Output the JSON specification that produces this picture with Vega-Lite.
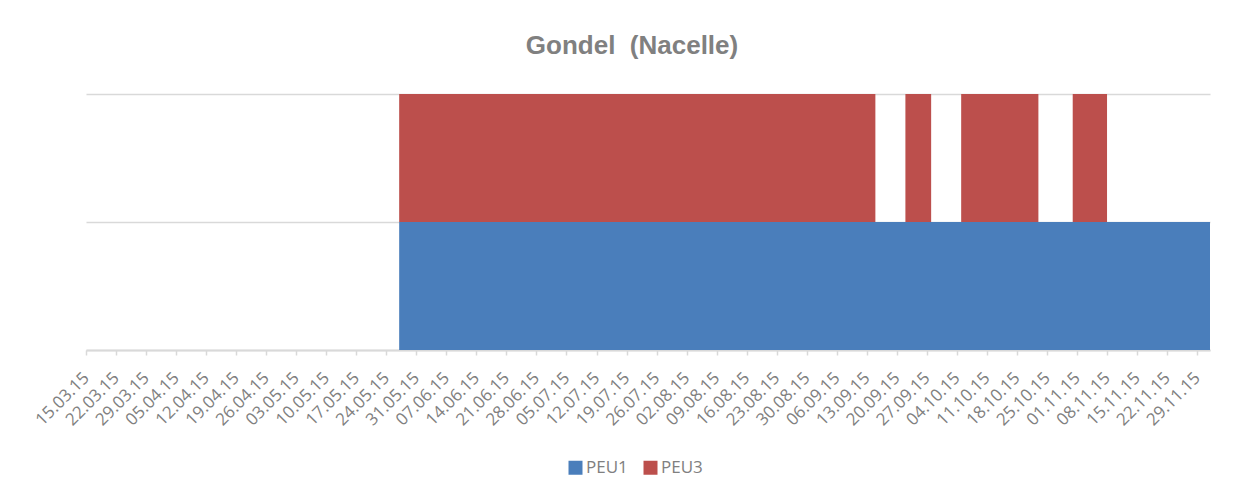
{
  "$schema": "https://vega.github.io/schema/vega-lite/v6.json",
  "width": 1124,
  "height": 256,
  "autosize": {"type": "none"},
  "padding": {"left": 86, "top": 94, "right": 42, "bottom": 152},
  "background": "white",
  "title": {
    "text": "Gondel\u00a0 (Nacelle)",
    "font": "Liberation Sans",
    "fontSize": 26,
    "fontWeight": "bold",
    "color": "#808080",
    "anchor": "middle",
    "dx": -16,
    "offset": 14,
    "baseline": "alphabetic"
  },
  "data": {
    "values": [
      {"date": "2015-03-15", "series": "PEU1", "value": 0},
      {"date": "2015-05-27", "series": "PEU1", "value": 1},
      {"date": "2015-09-15", "series": "PEU1", "value": 1},
      {"date": "2015-09-22", "series": "PEU1", "value": 1},
      {"date": "2015-09-28", "series": "PEU1", "value": 1},
      {"date": "2015-10-05", "series": "PEU1", "value": 1},
      {"date": "2015-10-23", "series": "PEU1", "value": 1},
      {"date": "2015-10-31", "series": "PEU1", "value": 1},
      {"date": "2015-11-08", "series": "PEU1", "value": 1},
      {"date": "2015-12-02", "series": "PEU1", "value": 1},
      {"date": "2015-03-15", "series": "PEU3", "value": 0},
      {"date": "2015-05-27", "series": "PEU3", "value": 1},
      {"date": "2015-09-15", "series": "PEU3", "value": 0},
      {"date": "2015-09-22", "series": "PEU3", "value": 1},
      {"date": "2015-09-28", "series": "PEU3", "value": 0},
      {"date": "2015-10-05", "series": "PEU3", "value": 1},
      {"date": "2015-10-23", "series": "PEU3", "value": 0},
      {"date": "2015-10-31", "series": "PEU3", "value": 1},
      {"date": "2015-11-08", "series": "PEU3", "value": 0},
      {"date": "2015-12-02", "series": "PEU3", "value": 0}
    ]
  },
  "mark": {"type": "area", "interpolate": "step-after"},
  "encoding": {
    "x": {
      "field": "date",
      "type": "temporal",
      "scale": {
        "type": "utc",
        "domain": [
          {"year": 2015, "month": 3, "date": 15, "utc": true},
          {"year": 2015, "month": 12, "date": 2, "utc": true}
        ],
        "nice": false
      },
      "axis": {
        "title": null,
        "grid": false,
        "format": "%d.%m.%y",
        "tickCount": {"interval": "week", "step": 1},
        "labelAngle": -45,
        "labelAlign": "right",
        "labelBaseline": "middle",
        "labelOverlap": false,
        "labelFont": "Open Sans",
        "labelFontSize": 17,
        "labelColor": "#808080",
        "labelPadding": 20,
        "domainColor": "#d9d9d9",
        "domainWidth": 2,
        "tickColor": "#d9d9d9",
        "tickWidth": 1.5,
        "tickSize": 5
      }
    },
    "y": {
      "field": "value",
      "type": "quantitative",
      "stack": "zero",
      "scale": {"domain": [0, 2], "nice": false},
      "axis": {
        "title": null,
        "values": [0, 1, 2],
        "domain": false,
        "ticks": false,
        "labels": false,
        "grid": true,
        "gridColor": "#d9d9d9",
        "gridWidth": 1.5
      }
    },
    "color": {
      "field": "series",
      "type": "nominal",
      "scale": {"domain": ["PEU1", "PEU3"], "range": ["#4A7EBB", "#BC4F4C"]},
      "legend": {
        "title": null,
        "orient": "none",
        "legendX": 481,
        "legendY": 365,
        "direction": "horizontal",
        "padding": 0,
        "symbolType": "square",
        "symbolSize": 196,
        "symbolStrokeWidth": 0,
        "symbolOpacity": 1,
        "labelFont": "Open Sans",
        "labelFontSize": 17,
        "labelColor": "#808080",
        "labelOffset": 2,
        "columnPadding": 14
      }
    },
    "order": {"field": "series", "sort": "ascending"}
  },
  "config": {"view": {"stroke": null}}
}
